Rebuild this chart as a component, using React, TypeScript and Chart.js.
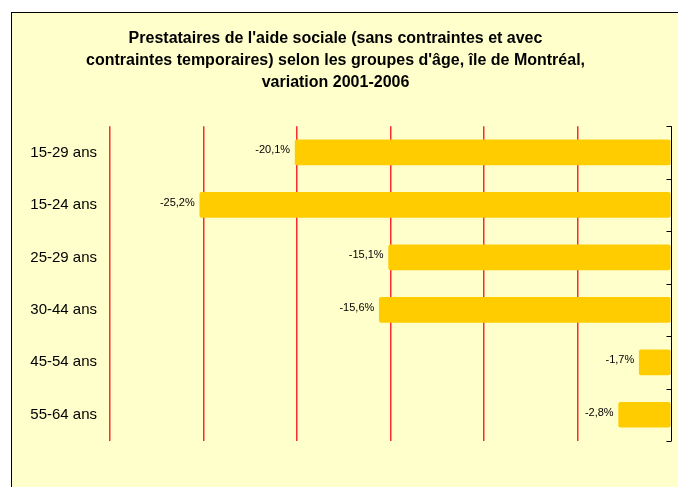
import React, { useEffect, useRef } from 'react';
import { Chart, registerables } from 'chart.js';

Chart.register(...registerables);

const categories = ['15-29 ans', '15-24 ans', '25-29 ans', '30-44 ans', '45-54 ans', '55-64 ans'];
const variation = [-20.1, -25.2, -15.1, -15.6, -1.7, -2.8];
const titleLines = [
  "Prestataires de l'aide sociale (sans contraintes et avec",
  "contraintes temporaires) selon les groupes d'âge, île de Montréal,",
  'variation 2001-2006',
];
const xMin = -30;
const xMax = 0;
const xStep = 5;

const FONT = '"Liberation Sans", Arial, sans-serif';
const fmt = (v: number) => v.toFixed(1).replace('.', ',') + '%';

const overlay = {
  id: 'overlay',
  afterDatasetsDraw(chart: any) {
    const { ctx, chartArea, scales } = chart;
    const x = scales.x;
    const y = scales.y;
    const meta = chart.getDatasetMeta(0);
    ctx.save();
    ctx.font = `11px ${FONT}`;
    ctx.fillStyle = '#000';
    ctx.textAlign = 'right';
    ctx.textBaseline = 'middle';
    meta.data.forEach((bar: any, i: number) => {
      ctx.fillText(fmt(variation[i]), bar.x - 5, bar.y - 2);
    });
    const x0 = Math.round(x.getPixelForValue(0)) + 0.5;
    ctx.strokeStyle = '#000';
    ctx.lineWidth = 1;
    ctx.beginPath();
    ctx.moveTo(x0, chartArea.top);
    ctx.lineTo(x0, chartArea.bottom);
    for (let i = 0; i <= categories.length; i++) {
      const yy = Math.round(y.getPixelForValue(i - 0.5)) + 0.5;
      ctx.moveTo(x0 - 5, yy);
      ctx.lineTo(x0, yy);
    }
    ctx.stroke();
    ctx.restore();
  },
};

export default function App() {
  const ref = useRef<HTMLCanvasElement>(null);
  useEffect(() => {
    if (!ref.current) return;
    const chart = new Chart(ref.current, {
      type: 'bar',
      data: {
        labels: categories,
        datasets: [
          {
            data: variation,
            backgroundColor: '#FFCC00',
            borderRadius: 2,
            borderSkipped: false,
            barThickness: 25,
          },
        ],
      },
      options: {
        indexAxis: 'y',
        responsive: false,
        animation: false,
        devicePixelRatio: 1,
        layout: { padding: { top: 0, left: 0, right: 7, bottom: 46 } },
        plugins: {
          legend: { display: false },
          tooltip: { enabled: false },
          title: {
            display: true,
            text: titleLines,
            color: '#000',
            font: { family: FONT, size: 16, weight: 'bold', lineHeight: 1.4 },
            padding: { top: 27, bottom: 32 },
          },
        },
        scales: {
          x: {
            min: xMin,
            max: xMax,
            ticks: { display: false, stepSize: xStep },
            border: { display: false },
            grid: {
              drawTicks: false,
              color: (c: any) => (c.tick && c.tick.value === 0 ? 'rgba(0,0,0,0)' : '#FF2A2A'),
              lineWidth: 1.5,
            },
            afterFit: (s: any) => {
              s.height = 0;
            },
          },
          y: {
            ticks: { color: '#000', padding: 13, font: { family: FONT, size: 15 } },
            grid: { display: false, drawTicks: false },
            border: { display: false },
            afterFit: (s: any) => {
              s.width = 110;
            },
          },
        },
      },
      plugins: [overlay],
    });
    return () => chart.destroy();
  }, []);

  return (
    <div>
      <div
        style={{
          position: 'fixed',
          left: 11,
          top: 12,
          width: 700,
          height: 500,
          border: '1px solid #000',
          background: '#FFFFCC',
        }}
      />
      <canvas
        ref={ref}
        width={678}
        height={487}
        style={{ position: 'fixed', left: 0, top: 0, width: 678, height: 487 }}
      />
    </div>
  );
}
